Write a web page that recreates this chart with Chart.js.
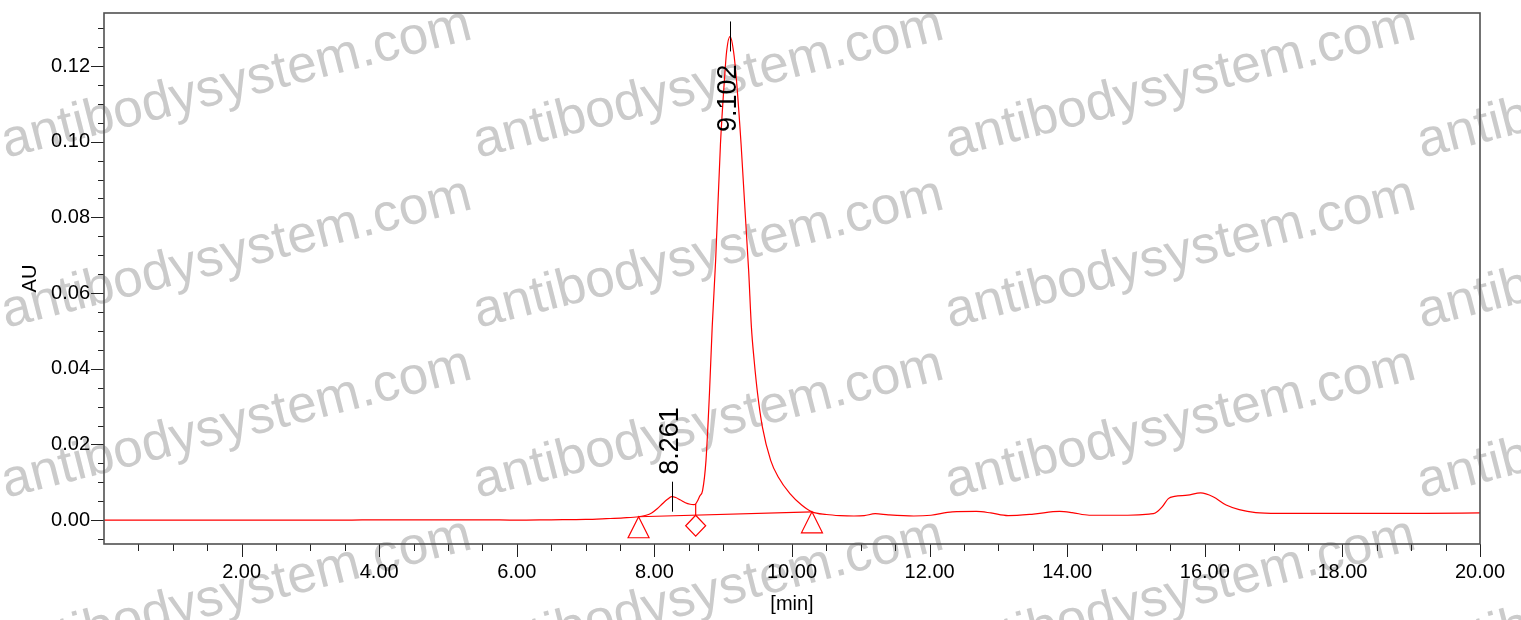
<!DOCTYPE html>
<html>
<head>
<meta charset="utf-8">
<script src="https://cdn.jsdelivr.net/npm/chart.js@4.4.1/dist/chart.umd.min.js"></script>
<style>
  html, body { margin: 0; padding: 0; background: #fff; }
  #wrap { width: 1521px; height: 620px; }
  canvas { display: block; }
</style>
</head>
<body>
<div id="wrap"><canvas id="c" width="1521" height="620"></canvas></div>
<script>
// ---------- DATA ----------
const times = [0, 0.5, 1, 1.5, 2, 2.5, 3, 3.5, 4, 4.5, 5, 5.5, 6, 6.5, 7, 7.3, 7.55, 7.77, 7.88, 7.96,
  8.04, 8.12, 8.19, 8.25, 8.31, 8.38, 8.45, 8.52, 8.57, 8.60, 8.63, 8.66, 8.70, 8.75, 8.80, 8.84, 8.89, 8.96, 9.02, 9.05,
  9.10, 9.15, 9.19, 9.26, 9.37, 9.41, 9.45, 9.50, 9.57, 9.69, 9.80, 9.97, 10.14, 10.29, 10.50, 10.70, 10.90, 11.05, 11.21, 11.40,
  11.77, 12.02, 12.33, 12.68, 12.89, 13.14, 13.51, 13.89, 14.07, 14.32, 14.88, 15.19, 15.28, 15.38, 15.47, 15.56, 15.75, 15.94, 16.12, 16.31,
  16.50, 16.74, 17.06, 18.30, 19.20, 20.00];
const absorbance = [0.0000, 0.0000, 0.0000, 0.0000, 0.0000, 0.0000, 0.0000, 0.0000, 0.0001, 0.0001, 0.0001, 0.0001, 0.0000, 0.0001, 0.0002, 0.0004, 0.0006, 0.0009, 0.0013, 0.0019,
  0.0030, 0.0044, 0.0055, 0.0062, 0.0060, 0.0053, 0.0046, 0.0042, 0.0041, 0.0043, 0.0052, 0.0064, 0.0078, 0.0158, 0.0334, 0.0510, 0.0686, 0.0993, 0.1169, 0.1239,
  0.1278, 0.1239, 0.1169, 0.0993, 0.0659, 0.0510, 0.0422, 0.0334, 0.0246, 0.0158, 0.0114, 0.0070, 0.0040, 0.0022, 0.0015, 0.0012, 0.0011, 0.0012, 0.0017, 0.0014,
  0.0011, 0.0013, 0.0022, 0.0023, 0.0019, 0.0012, 0.0016, 0.0023, 0.0020, 0.0013, 0.0013, 0.0016, 0.0019, 0.0035, 0.0057, 0.0063, 0.0066, 0.0072, 0.0062, 0.0040,
  0.0028, 0.0020, 0.0018, 0.0018, 0.0018, 0.0019];

// integration baseline (start, drop, end) and marker kinds
const eventTimes = [7.77, 8.60, 10.29];
const eventBaseline = [0.0009, 0.0013, 0.0022];
const eventKinds = ['triangle', 'diamond', 'triangle'];
const dropLineTop = 0.0043;

// labelled peaks
const peakTimes = [8.261, 9.102];
const peakHeights = [0.0062, 0.1278];
const peakLabels = ['8.261', '9.102'];

// axis ticks
const xLabelTicks = [2, 4, 6, 8, 10, 12, 14, 16, 18, 20];
const xMinorStep = 0.5;
const yLabelTicks = [0, 0.02, 0.04, 0.06, 0.08, 0.10, 0.12];
const yMinorStep = 0.005;

const watermarkText = 'antibodysystem.com';

// ---------- CHART ----------
const FONT = '"Liberation Sans", Arial, sans-serif';

const decor = {
  id: 'decor',
  beforeDraw(chart) {
    const c = chart.ctx;
    c.save();
    c.fillStyle = '#ffffff';
    c.fillRect(0, 0, chart.width, chart.height);
    // watermark tiles
    c.fillStyle = 'rgb(203,203,203)';
    c.font = '53px ' + FONT;
    c.textBaseline = 'alphabetic';
    c.textAlign = 'left';
    for (let j = -1; j < 4; j++) {
      for (let i = 0; i < 4; i++) {
        c.save();
        c.translate(6 + 472 * i, 158 + 170 * j);
        c.rotate(-14.3 * Math.PI / 180);
        c.fillText(watermarkText, 0, 0);
        c.restore();
      }
    }
    c.restore();
  },
  afterDatasetsDraw(chart) {
    const c = chart.ctx;
    const a = chart.chartArea;
    const xs = chart.scales.x, ys = chart.scales.y;
    c.save();
    // markers
    c.strokeStyle = '#ff0000';
    c.lineWidth = 1.2;
    eventTimes.forEach((t, k) => {
      const px = xs.getPixelForValue(t), py = ys.getPixelForValue(eventBaseline[k]);
      c.beginPath();
      if (eventKinds[k] === 'triangle') {
        c.moveTo(px, py);
        c.lineTo(px + 10.5, py + 21);
        c.lineTo(px - 10.5, py + 21);
        c.closePath();
      } else {
        c.moveTo(px, py);
        c.lineTo(px + 10, py + 10.5);
        c.lineTo(px, py + 21);
        c.lineTo(px - 10, py + 10.5);
        c.closePath();
      }
      c.stroke();
    });
    // peak labels
    c.strokeStyle = '#000';
    c.fillStyle = '#000';
    c.lineWidth = 1;
    c.font = '27px ' + FONT;
    peakTimes.forEach((t, k) => {
      const px = Math.round(xs.getPixelForValue(t)) + 0.5;
      const py = ys.getPixelForValue(peakHeights[k]);
      c.beginPath();
      c.moveTo(px, py - 15);
      c.lineTo(px, py + 15);
      c.stroke();
      const w = c.measureText(peakLabels[k]).width;
      let start;
      if (py - 22 - w > a.top + 2) start = py - 22;
      else start = py + 28 + w;
      c.save();
      c.translate(px - 2, start);
      c.rotate(-Math.PI / 2);
      c.textAlign = 'left';
      c.textBaseline = 'middle';
      c.fillText(peakLabels[k], 0, 0);
      c.restore();
    });
    c.restore();
  },
  afterDraw(chart) {
    const c = chart.ctx;
    const a = chart.chartArea;
    const xs = chart.scales.x, ys = chart.scales.y;
    c.save();
    // ticks
    c.strokeStyle = '#222';
    c.lineWidth = 1;
    for (let v = xMinorStep; v <= xs.max + 1e-9; v += xMinorStep) {
      const vv = Math.round(v * 100) / 100;
      const major = xLabelTicks.some(m => Math.abs(m - vv) < 1e-6);
      const px = Math.round(xs.getPixelForValue(vv)) + 0.5;
      c.beginPath();
      c.moveTo(px, a.bottom);
      c.lineTo(px, a.bottom + (major ? 13 : 7));
      c.stroke();
    }
    for (let v = -yMinorStep; v <= ys.max + 1e-9; v += yMinorStep) {
      const vv = Math.round(v * 1000) / 1000;
      if (vv < ys.min) continue;
      const major = yLabelTicks.some(m => Math.abs(m - vv) < 1e-6);
      const py = Math.round(ys.getPixelForValue(vv)) + 0.5;
      c.beginPath();
      c.moveTo(a.left, py);
      c.lineTo(a.left - (major ? 13 : 6), py);
      c.stroke();
    }
    // frame
    c.strokeStyle = '#505050';
    c.lineWidth = 1.6;
    c.strokeRect(a.left, a.top, a.right - a.left, a.bottom - a.top);
    c.restore();
  }
};

new Chart(document.getElementById('c'), {
  type: 'line',
  data: {
    datasets: [
      {
        label: 'trace',
        data: times.map((t, i) => ({ x: t, y: absorbance[i] })),
        borderColor: '#ff0000',
        borderWidth: 1.2,
        pointRadius: 0,
        cubicInterpolationMode: 'monotone',
        fill: false
      },
      {
        label: 'baseline',
        data: [{ x: eventTimes[0], y: eventBaseline[0] }, { x: eventTimes[2], y: eventBaseline[2] }],
        borderColor: '#ff0000',
        borderWidth: 1.2,
        pointRadius: 0,
        tension: 0,
        fill: false
      },
      {
        label: 'drop',
        data: [{ x: eventTimes[1], y: dropLineTop }, { x: eventTimes[1], y: eventBaseline[1] }],
        borderColor: '#ff0000',
        borderWidth: 1.2,
        pointRadius: 0,
        tension: 0,
        fill: false
      }
    ]
  },
  options: {
    responsive: false,
    animation: false,
    devicePixelRatio: 1,
    layout: { padding: { left: 0, right: 41, top: 11, bottom: 0 } },
    plugins: { legend: { display: false }, tooltip: { enabled: false } },
    scales: {
      x: {
        type: 'linear',
        min: 0,
        max: 20,
        afterBuildTicks: s => { s.ticks = xLabelTicks.map(v => ({ value: v })); },
        afterFit: s => { s.height = 76; },
        ticks: {
          callback: v => Number(v).toFixed(2),
          color: '#000',
          font: { family: FONT, size: 20 },
          maxRotation: 0,
          autoSkip: false,
          padding: 3
        },
        grid: { drawOnChartArea: false, tickLength: 13, tickColor: 'rgba(0,0,0,0)' },
        border: { display: false },
        title: {
          display: true,
          text: '[min]',
          color: '#000',
          font: { family: FONT, size: 20 },
          padding: { top: 0, bottom: 4 }
        }
      },
      y: {
        type: 'linear',
        min: -0.0063,
        max: 0.134,
        afterBuildTicks: s => { s.ticks = yLabelTicks.map(v => ({ value: v })); },
        afterFit: s => { s.width = 104; },
        ticks: {
          callback: v => Number(v).toFixed(2),
          color: '#000',
          font: { family: FONT, size: 20 },
          autoSkip: false,
          padding: 1
        },
        grid: { drawOnChartArea: false, tickLength: 13, tickColor: 'rgba(0,0,0,0)' },
        border: { display: false },
        title: {
          display: true,
          text: 'AU',
          color: '#000',
          font: { family: FONT, size: 20 },
          padding: { top: 18, bottom: 0 }
        }
      }
    }
  },
  plugins: [decor]
});
</script>
</body>
</html>
